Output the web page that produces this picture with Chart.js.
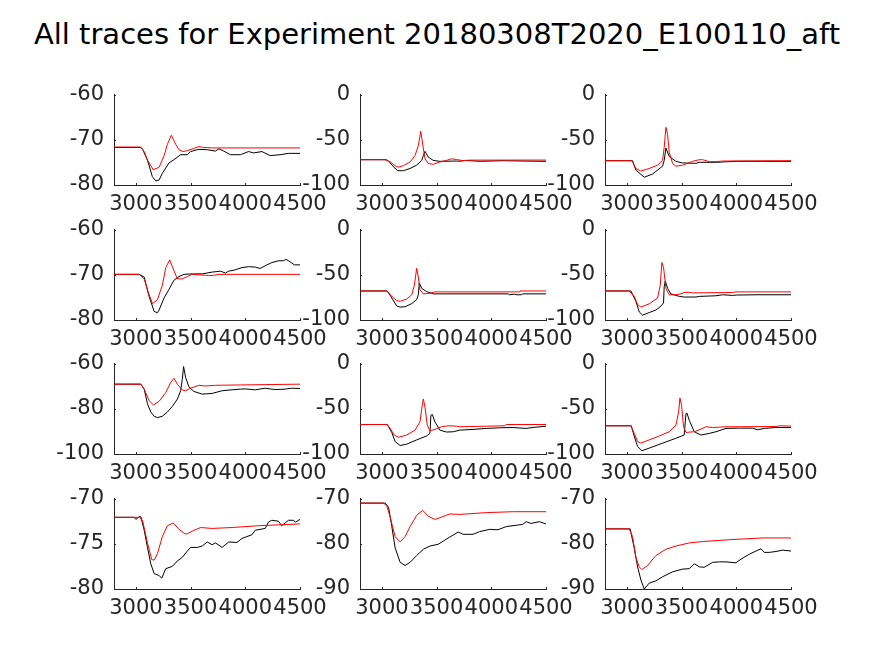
<!DOCTYPE html>
<html>
<head>
<meta charset="utf-8">
<script src="https://cdn.jsdelivr.net/npm/chart.js@4.4.1/dist/chart.umd.min.js"></script>
<style>
  html, body { margin: 0; padding: 0; background: #ffffff; }
  #page { position: relative; width: 874px; height: 656px; overflow: hidden; background: #fff; }
  #title { position: absolute; left: 0; width: 874px; top: 14px; text-align: center;
           font-family: "DejaVu Sans", sans-serif; font-size: 29px; line-height: 40px; color: #000; white-space: nowrap; }
  canvas { position: absolute; }
</style>
</head>
<body>
<div id="page">
  <div id="title">All traces for Experiment 20180308T2020_E100110_aft</div>
</div>
<script>
// ---------------- data ----------------
const xTicks = [3000, 3500, 4000, 4500];
const xMin = 2800, xMax = 4500;

// y-axis ranges for panels in row-major order (r1c1 ... r4c3)
const yMin  = [-80, -100, -100, -80, -100, -100, -100, -100, -100, -80, -90, -90];
const yMax  = [-60,    0,    0, -60,    0,    0,  -60,    0,    0, -70, -70, -70];
const yStep = [ 10,   50,   50,  10,   50,   50,   20,   50,   50,   5,  10,  10];

const r1c1Black = [[2800,-71.7],[3040,-71.7],[3060,-72.0],[3106,-74.5],[3150,-78.1],[3182,-79.1],[3212,-78.9],[3242,-77.4],[3303,-75.1],[3348,-74.4],[3409,-73.3],[3470,-73.3],[3500,-72.6],[3576,-72.1],[3652,-72.2],[3727,-72.5],[3758,-72.0],[3803,-72.5],[3864,-73.3],[3955,-73.3],[4030,-72.6],[4076,-72.9],[4152,-72.6],[4227,-73.5],[4318,-73.3],[4394,-73.0],[4500,-73.0]];
const r1c1Red   = [[2800,-71.6],[3045,-71.6],[3080,-72.8],[3106,-74.5],[3158,-76.6],[3212,-76.1],[3258,-73.5],[3288,-71.0],[3324,-69.0],[3364,-71.0],[3394,-72.2],[3430,-72.6],[3470,-72.4],[3530,-71.9],[3576,-71.5],[3620,-71.7],[3700,-71.8],[4500,-71.8]];

const r1c2Black = [[2800,-72],[3040,-72],[3061,-73.5],[3106,-79.9],[3145,-84.2],[3197,-84.2],[3258,-81.7],[3318,-78.1],[3364,-72.8],[3379,-67.4],[3394,-62.7],[3424,-69.2],[3470,-72.8],[3530,-73.8],[3682,-73.5],[3712,-73.8],[3758,-72.8],[3900,-73.8],[4100,-73.1],[4300,-73.5],[4500,-73.8]];
const r1c2Red   = [[2800,-72],[3030,-72],[3076,-74.5],[3136,-79.9],[3160,-80],[3197,-78.5],[3258,-74.5],[3303,-67.4],[3333,-56.6],[3355,-40.5],[3373,-54.8],[3394,-71],[3424,-76.3],[3470,-77.1],[3530,-74.5],[3591,-72.8],[3636,-71],[3682,-71.8],[3742,-73.1],[3800,-72.5],[4500,-72.4]];

const r1c3Black = [[2800,-73.1],[3052,-73.1],[3082,-83.5],[3159,-91.4],[3235,-87.8],[3326,-79.2],[3341,-72.8],[3357,-59.1],[3387,-68.5],[3448,-73.8],[3509,-75.6],[3631,-76],[3662,-74.9],[3814,-74.9],[3997,-73.8],[4241,-73.8],[4500,-73.8]];
const r1c3Red   = [[2800,-73.1],[3046,-73.1],[3082,-81.7],[3128,-84.6],[3204,-81.7],[3280,-78.1],[3326,-72.8],[3341,-58.4],[3357,-36.2],[3372,-44],[3387,-63.8],[3418,-76.3],[3448,-79.2],[3509,-78.1],[3601,-73.8],[3662,-72],[3692,-72],[3753,-74.2],[3814,-74.2],[3875,-73.5],[4500,-73.1]];

const r2c1Black = [[2800,-69.9],[3030,-69.9],[3076,-70.5],[3121,-74.8],[3167,-78.1],[3197,-78.4],[3212,-77.8],[3258,-75.1],[3303,-73.2],[3348,-71.2],[3394,-70.4],[3439,-69.9],[3515,-69.8],[3606,-69.8],[3697,-69.4],[3773,-69.2],[3818,-69.6],[3848,-69.2],[3909,-68.9],[3970,-68.4],[4030,-68.2],[4091,-68.3],[4136,-68.6],[4182,-68.0],[4242,-67.3],[4303,-66.9],[4348,-66.9],[4373,-66.6],[4409,-67.1],[4448,-67.8],[4500,-67.8]];
const r2c1Red   = [[2800,-69.9],[3030,-69.9],[3076,-70.9],[3106,-73.4],[3152,-76.4],[3197,-75.5],[3242,-72.3],[3273,-68.4],[3309,-66.7],[3348,-69.1],[3379,-70.9],[3424,-70.9],[3470,-70.4],[3515,-69.9],[3636,-70.1],[3667,-70.2],[3712,-70.1],[3760,-69.9],[4500,-69.9]];

const r2c2Black = [[2800,-67.9],[3050,-67.9],[3091,-75.7],[3136,-84.6],[3167,-85.7],[3212,-85.4],[3273,-81.8],[3318,-77.5],[3333,-72.1],[3342,-58.9],[3364,-65],[3409,-68.6],[3470,-71.1],[4152,-71.1],[4167,-72.1],[4212,-71.4],[4227,-72.1],[4273,-72.1],[4288,-71.1],[4500,-71.1]];
const r2c2Red   = [[2800,-67.9],[3045,-67.9],[3076,-72.1],[3136,-78.6],[3167,-79.3],[3227,-76.8],[3273,-72.1],[3297,-61.4],[3318,-42.9],[3333,-52.5],[3348,-66.8],[3379,-71.1],[3439,-70.4],[3485,-68.9],[4258,-68.9],[4262,-67.9],[4500,-67.9]];

const r2c3Black = [[2800,-67.9],[3037,-67.9],[3082,-79.3],[3113,-91.1],[3143,-94.6],[3204,-91.8],[3265,-88.9],[3311,-84.6],[3335,-81.1],[3341,-63.2],[3351,-56.8],[3372,-65],[3402,-71.1],[3479,-73.9],[3524,-74.6],[3631,-74.6],[3662,-73.9],[3814,-73.2],[3875,-72.1],[3966,-72.8],[4000,-72.4],[4180,-72.1],[4500,-72.1]];
const r2c3Red   = [[2800,-67.9],[3021,-67.9],[3067,-73.9],[3098,-82.9],[3128,-85.7],[3204,-82.1],[3280,-75.7],[3305,-61.4],[3320,-36.4],[3335,-41.8],[3357,-65],[3387,-72.1],[3448,-72.1],[3494,-71.1],[3524,-69.6],[3570,-69.3],[3601,-70],[3966,-69.6],[3997,-68.9],[4500,-68.9]];

const r3c1Black = [[2800,-69.1],[3045,-69.1],[3076,-71.3],[3106,-77.8],[3136,-81.4],[3167,-83.3],[3197,-83.9],[3242,-83.3],[3288,-81.4],[3333,-79],[3379,-75.7],[3409,-72],[3424,-67],[3436,-61.3],[3455,-66.2],[3485,-70.3],[3530,-72.3],[3606,-73.5],[3697,-73.2],[3788,-72],[3879,-71.6],[3955,-71.3],[4000,-71.2],[4091,-71.6],[4182,-70.9],[4273,-71.5],[4364,-71.3],[4424,-70.9],[4500,-71]];
const r3c1Red   = [[2800,-69.1],[3045,-69.1],[3076,-71.3],[3121,-76.4],[3161,-78.3],[3212,-76.7],[3273,-72.8],[3318,-68.4],[3348,-66.5],[3379,-69.1],[3424,-71.7],[3455,-72],[3500,-70.9],[3576,-69.6],[3636,-69.9],[3727,-69.6],[4182,-69.3],[4500,-69.1]];

const r3c2Black = [[2800,-67.4],[3050,-67.4],[3091,-76.4],[3121,-86.2],[3167,-90.6],[3227,-89.1],[3318,-84.4],[3409,-80.1],[3439,-77.2],[3448,-57.2],[3461,-56.2],[3485,-64.5],[3530,-73.6],[3591,-75.7],[3652,-75.4],[3712,-73.6],[3833,-72.8],[3955,-71.7],[4076,-71],[4197,-70.7],[4318,-71.7],[4380,-70.7],[4500,-69.2]];
const r3c2Red   = [[2800,-67.4],[3045,-67.4],[3076,-71.7],[3112,-79],[3152,-81.5],[3227,-79],[3303,-73.6],[3348,-64.5],[3364,-50],[3379,-39.1],[3394,-48.2],[3415,-68.1],[3439,-74.3],[3485,-72.8],[3545,-69.9],[3606,-68.8],[3682,-69.2],[3712,-69.9],[3800,-69.6],[4121,-68.8],[4136,-67.4],[4500,-67.4]];

const r3c3Black = [[2800,-68.8],[3040,-68.8],[3067,-80.1],[3098,-91.7],[3137,-96.4],[3204,-93.5],[3326,-88],[3448,-82.6],[3524,-79],[3540,-55.4],[3549,-54.7],[3570,-62.7],[3616,-75.4],[3677,-79],[3753,-77.2],[3814,-75.4],[3906,-71.7],[4027,-71.4],[4149,-71.4],[4195,-73.2],[4256,-71.7],[4363,-70.7],[4500,-70.7]];
const r3c3Red   = [[2800,-68.8],[3037,-68.8],[3067,-77.2],[3098,-86.2],[3128,-88],[3204,-84.4],[3296,-80.1],[3387,-75.4],[3448,-68.1],[3473,-53.6],[3485,-38],[3500,-46.4],[3518,-69.9],[3540,-76.1],[3616,-75.4],[3677,-72.5],[3723,-69.9],[3784,-70.7],[3906,-69.9],[4363,-69.6],[4393,-68.8],[4500,-69.1]];

const r4c1Black = [[2800,-72.07],[2985,-72.07],[3000,-72.3],[3030,-72.0],[3045,-72.0],[3076,-73.5],[3106,-75.4],[3136,-77.2],[3167,-78.3],[3212,-78.5],[3236,-78.8],[3273,-77.75],[3333,-77.5],[3379,-76.9],[3424,-76.5],[3470,-75.8],[3500,-75.4],[3561,-75.4],[3606,-75.25],[3652,-74.8],[3697,-75.1],[3727,-74.9],[3788,-75.4],[3848,-74.8],[3924,-74.85],[3970,-74.4],[4015,-74.2],[4061,-74],[4091,-73.5],[4182,-73.3],[4212,-72.6],[4242,-72.4],[4303,-72.5],[4333,-73],[4364,-72.7],[4394,-72.4],[4439,-72.4],[4460,-72.6],[4500,-72.3]];
const r4c1Red   = [[2800,-72.07],[3030,-72.07],[3061,-72.4],[3106,-74.9],[3145,-76.75],[3167,-76.8],[3197,-76.1],[3242,-74.2],[3288,-73],[3342,-72.7],[3394,-73.4],[3448,-73.9],[3470,-73.9],[3515,-73.6],[3591,-73.2],[3697,-73.3],[3879,-73.2],[4121,-73],[4500,-72.8]];

const r4c2Black = [[2800,-71],[3030,-71],[3061,-71.9],[3091,-76.2],[3121,-80.9],[3167,-84.1],[3212,-84.8],[3258,-84.1],[3318,-82.6],[3379,-81.2],[3439,-80.5],[3515,-80.1],[3561,-79.4],[3621,-78.5],[3697,-77.4],[3742,-77.9],[3833,-77.9],[3894,-77.3],[3985,-76.8],[4061,-76.9],[4136,-76.2],[4227,-75.9],[4288,-75.7],[4318,-75.1],[4364,-75.5],[4439,-75.1],[4500,-75.6]];
const r4c2Red   = [[2800,-71],[3015,-71],[3045,-71.6],[3076,-74.1],[3121,-78.4],[3167,-79.6],[3212,-78.4],[3258,-76.2],[3318,-73.7],[3373,-72.6],[3424,-73.9],[3485,-74.6],[3545,-74.1],[3621,-73.4],[3712,-73.5],[3955,-73.1],[4197,-72.9],[4500,-72.9]];

const r4c3Black = [[2800,-76.7],[3030,-76.7],[3067,-80.9],[3098,-85.1],[3128,-88],[3159,-90],[3204,-88.7],[3265,-88.2],[3326,-87.3],[3418,-86.2],[3509,-85.6],[3570,-85.5],[3616,-84.4],[3662,-85.1],[3707,-85.2],[3784,-84.1],[3845,-84],[3906,-84],[3997,-84.2],[4043,-83.4],[4119,-82.3],[4180,-81.6],[4226,-81.1],[4256,-81.9],[4302,-81.9],[4363,-81.7],[4424,-81.4],[4500,-81.6]];
const r4c3Red   = [[2800,-76.7],[3021,-76.7],[3052,-78.4],[3082,-83],[3113,-85.1],[3137,-85.7],[3189,-84.8],[3265,-82.6],[3357,-81.2],[3448,-80.5],[3570,-79.8],[3692,-79.5],[3936,-79.1],[4241,-78.7],[4500,-78.7]];

const blackSeries = [r1c1Black, r1c2Black, r1c3Black, r2c1Black, r2c2Black, r2c3Black, r3c1Black, r3c2Black, r3c3Black, r4c1Black, r4c2Black, r4c3Black];
const redSeries   = [r1c1Red, r1c2Red, r1c3Red, r2c1Red, r2c2Red, r2c3Red, r3c1Red, r3c2Red, r3c3Red, r4c1Red, r4c2Red, r4c3Red];

// ---------------- layout ----------------
const colLeft = [114, 360, 605];
const rowTop  = [92, 227, 361, 496];
const PW = 186, PH = 93;
const PAD_L = 90, PAD_T = 20, PAD_R = 45, PAD_B = 45;
const Y_AXIS_W = 66, X_AXIS_H = 36;
const AXIS_COLOR = '#262626';
const TICK_LEN = 2;
const FONT = { family: 'DejaVu Sans', size: 21 };

const inwardTicks = {
  id: 'inwardTicks',
  afterDraw(chart) {
    const { ctx, chartArea, scales } = chart;
    ctx.save();
    ctx.strokeStyle = AXIS_COLOR;
    ctx.lineWidth = 1;
    ctx.beginPath();
    scales.x.ticks.forEach(t => {
      const px = Math.round(scales.x.getPixelForValue(t.value)) + 0.5;
      ctx.moveTo(px, chartArea.bottom);
      ctx.lineTo(px, chartArea.bottom - TICK_LEN);
    });
    scales.y.ticks.forEach(t => {
      const py = Math.round(scales.y.getPixelForValue(t.value)) + 0.5;
      ctx.moveTo(chartArea.left, py);
      ctx.lineTo(chartArea.left + TICK_LEN, py);
    });
    ctx.stroke();
    ctx.restore();
  }
};

const page = document.getElementById('page');
for (let i = 0; i < 12; i++) {
  const r = Math.floor(i / 3), c = i % 3;
  const cv = document.createElement('canvas');
  const w = PW + PAD_L + PAD_R, h = PH + PAD_T + PAD_B;
  cv.width = w; cv.height = h;
  cv.style.left = (colLeft[c] - PAD_L) + 'px';
  cv.style.top = (rowTop[r] - PAD_T) + 'px';
  cv.style.width = w + 'px'; cv.style.height = h + 'px';
  page.appendChild(cv);

  new Chart(cv.getContext('2d'), {
    type: 'line',
    data: {
      datasets: [
        { data: redSeries[i], borderColor: '#ff0000', borderWidth: 1, pointRadius: 0, tension: 0, fill: false },
        { data: blackSeries[i], borderColor: '#000000', borderWidth: 1, pointRadius: 0, tension: 0, fill: false }
      ]
    },
    options: {
      responsive: false,
      animation: false,
      devicePixelRatio: 1,
      events: [],
      layout: { padding: { left: PAD_L - Y_AXIS_W, top: PAD_T, right: PAD_R, bottom: PAD_B - X_AXIS_H } },
      plugins: { legend: { display: false }, tooltip: { enabled: false }, title: { display: false } },
      scales: {
        x: {
          type: 'linear', min: xMin, max: xMax,
          afterBuildTicks: s => { s.ticks = xTicks.map(v => ({ value: v })); },
          afterFit: s => { s.height = X_AXIS_H; },
          grid: { display: true, drawOnChartArea: false, drawTicks: false },
          border: { display: true, color: AXIS_COLOR, width: 1 },
          ticks: { color: AXIS_COLOR, font: FONT, padding: 7, maxRotation: 0, minRotation: 0, autoSkip: false, callback: v => String(v) }
        },
        y: {
          type: 'linear', min: yMin[i], max: yMax[i],
          ticks: { stepSize: yStep[i], color: AXIS_COLOR, font: FONT, padding: 10, callback: v => String(v) },
          afterFit: s => { s.width = Y_AXIS_W; },
          grid: { display: true, drawOnChartArea: false, drawTicks: false },
          border: { display: true, color: AXIS_COLOR, width: 1 }
        }
      }
    },
    plugins: [inwardTicks]
  });
}
</script>
</body>
</html>
